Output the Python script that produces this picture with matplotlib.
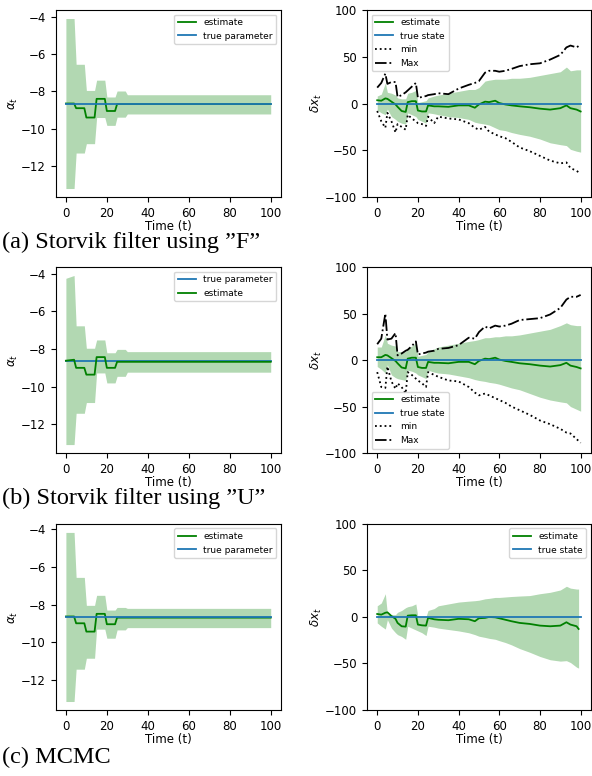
import numpy as np
import matplotlib
matplotlib.use('Agg')
import matplotlib.pyplot as plt

plt.rcParams.update({
    'font.size': 8.5,
    'xtick.labelsize': 8.5,
    'ytick.labelsize': 8.5,
    'axes.labelsize': 8.5,
    'legend.fontsize': 6.5,
    'lines.linewidth': 1.3,
    'axes.linewidth': 0.8,
})

# ---- parameter panels (alpha_t) ----
t_alpha = [0, 4, 5, 9, 10, 14, 15, 19, 20, 24, 25, 29, 30, 100]
true_alpha = -8.65

est_alpha_F = [-8.65, -8.65, -8.9, -8.9, -9.4, -9.4, -8.4, -8.4, -9.05, -9.05, -8.68, -8.68, -8.68, -8.68]
up_alpha_F = [-4.1, -4.1, -6.55, -6.55, -7.95, -7.95, -7.4, -7.4, -8.3, -8.3, -7.98, -7.98, -8.18, -8.18]
lo_alpha_F = [-13.2, -13.2, -11.3, -11.3, -10.8, -10.8, -9.4, -9.4, -9.82, -9.82, -9.38, -9.38, -9.21, -9.21]

est_alpha_U = [-8.62, -8.57, -9.0, -9.0, -9.36, -9.36, -8.43, -8.43, -9.0, -9.0, -8.68, -8.68, -8.68, -8.68]
up_alpha_U = [-4.25, -4.1, -6.77, -6.77, -7.96, -7.96, -7.52, -7.52, -8.2, -8.2, -8.02, -8.02, -8.14, -8.14]
lo_alpha_U = [-13.07, -13.07, -11.41, -11.41, -10.84, -10.84, -9.27, -9.27, -9.8, -9.8, -9.45, -9.45, -9.23, -9.23]

est_alpha_M = [-8.63, -8.63, -8.99, -8.99, -9.43, -9.43, -8.49, -8.49, -9.04, -9.04, -8.69, -8.69, -8.69, -8.69]
up_alpha_M = [-4.18, -4.18, -6.56, -6.56, -8.04, -8.04, -7.51, -7.51, -8.29, -8.29, -8.15, -8.15, -8.2, -8.2]
lo_alpha_M = [-13.13, -13.13, -11.42, -11.42, -10.84, -10.84, -9.3, -9.3, -9.78, -9.78, -9.34, -9.34, -9.22, -9.22]

# ---- state panels (delta x_t) ----
t_x = [0, 2, 4, 5, 7, 9, 10, 12, 14, 15, 17, 19, 20, 22, 24, 25, 28, 30, 35, 40,
       45, 48, 50, 53, 55, 58, 60, 63, 66, 70, 75, 80, 85, 90, 93, 95, 98, 100]
t_x_mcmc = [0, 2, 4, 5, 7, 9, 10, 12, 14, 15, 17, 19, 20, 22, 24, 25, 28, 30, 35, 40,
            45, 48, 50, 53, 55, 58, 60, 63, 66, 70, 75, 80, 85, 90, 93, 95, 98, 99]
t_true = [0, 100]
true_x = [0, 0]

est_x_F = [3.5, 3, 5.5, 5, 2, -1, -3.5, -8, -9, 1.5, 2.5, 2.5, -7.5, -8.5, -8.5, -2, -3, -3, -3.5, -2,
           -2, -4.5, -1, 2, 1.5, 3, 0.5, -1, -2, -3, -4, -5.5, -6.5, -5, -2, -5, -6.5, -8.5]
up_x_F = [8, 10, 22, 12, 11, 9, 6, 5, 5, 11, 12, 14, 1, 2, 3, 6, 8, 9, 11, 13,
          15, 15, 17, 24, 25, 26, 26, 26, 27, 27, 28, 30, 32, 34, 39, 35, 36, 36]
lo_x_F = [-7, -10, -12, -6, -14, -17, -19, -21, -22, -10, -12, -14, -17, -19, -21, -10, -11, -12, -14, -15,
          -17, -20, -21, -22, -23, -26, -28, -29, -31, -33, -35, -38, -42, -44, -45, -49, -51, -52]
max_x_F = [17, 22, 32, 21, 23, 23, 7, 9, 12, 14, 18, 22, 6, 7, 8, 9, 10, 11, 10, 16,
           20, 22, 24, 33, 35, 35, 34, 35, 37, 40, 42, 43, 47, 52, 60, 62, 60, 63]
min_x_F = [-8, -19, -26, -10, -19, -31, -22, -25, -28, -12, -16, -19, -21, -22, -24, -14, -21, -14, -16, -17,
           -21, -26, -28, -25, -30, -33, -35, -37, -41, -47, -51, -56, -61, -64, -63, -69, -72, -75]

est_x_U = [3, 3, 5.5, 5, 2, -1, -3.5, -8, -9, 1.5, 2.5, 2.5, -7.5, -8.5, -8.5, -2, -3, -3, -3.5, -2,
           -2, -4.5, -1, 1.5, 1, 2.5, 0.5, -1, -2, -3.5, -4.5, -6, -7, -5.5, -3, -6, -7.5, -9]
up_x_U = [14, 14, 27, 18, 16, 15, 9, 9, 9, 13, 15, 18, 4, 5, 6, 9, 12, 14, 16, 18,
          20, 21, 22, 24, 24, 25, 25, 26, 26, 27, 29, 31, 33, 37, 40, 38, 37, 37]
lo_x_U = [-7, -10, -14, -5, -16, -19, -20, -21, -22, -11, -12, -14, -16, -18, -20, -11, -13, -14, -15, -17,
          -19, -21, -22, -23, -24, -25, -26, -28, -30, -32, -36, -40, -43, -45, -46, -50, -53, -55]
max_x_U = [17, 23, 50, 22, 23, 29, 5, 7, 10, 11, 15, 20, 6, 7, 8, 9, 10, 12, 13, 16,
           24, 23, 30, 36, 34, 37, 36, 37, 39, 43, 44, 45, 49, 56, 65, 68, 68, 70]
min_x_U = [-13, -29, -30, -7, -23, -31, -25, -29, -36, -13, -16, -20, -22, -25, -29, -13, -16, -18, -22, -23,
           -29, -35, -38, -36, -38, -41, -43, -46, -50, -54, -59, -65, -69, -74, -78, -79, -85, -89]

est_x_M = [3.2, 2.5, 4.5, 5, 1, -2, -6.4, -10, -10.4, 1.4, 1.8, 1.8, -8.2, -9, -9.3, -1, -2.5, -3, -3.5, -2,
           -2.5, -4.6, -1.4, -1, 0, -0.4, -1.4, -3, -4.6, -6.4, -7.5, -9.3, -10, -9.3, -5.7, -8.2, -10, -12.9]
up_x_M = [12, 15, 25, 3, 2.5, 2.5, 5, 7, 10, 11, 12, 14, 0, 0, 0.5, 7, 9, 12, 14, 16,
          17, 17.5, 18, 19.5, 20, 21, 21, 21.5, 22, 22.5, 23, 25, 26.5, 29, 33, 31, 30, 30]
lo_x_M = [-6.4, -10, -13, -3, -12, -17, -19, -21, -24, -10, -12, -14, -15, -17, -20, -10, -11, -12, -13.5, -15,
          -17, -19, -20.7, -22, -23, -24, -25.5, -27.5, -30, -34, -38, -42.5, -46, -47.5, -47, -49, -54, -55]

captions = ['(a) Storvik filter using \u201dF\u201d',
            '(b) Storvik filter using \u201dU\u201d',
            '(c) MCMC']

fig = plt.figure(figsize=(5.92, 7.76), dpi=100)

# axes rectangles (left, bottom, width, height) in figure fractions
row_bottoms = [0.7461, 0.4162, 0.0851]
row_heights = [0.241, 0.2397, 0.2397]
cap_y = [0.6875, 0.3575, 0.0245]

alpha_sets = [(est_alpha_F, up_alpha_F, lo_alpha_F),
              (est_alpha_U, up_alpha_U, lo_alpha_U),
              (est_alpha_M, up_alpha_M, lo_alpha_M)]

for i in range(3):
    ax = fig.add_axes([0.094, row_bottoms[i], 0.3806, row_heights[i]])
    est, up, lo = alpha_sets[i]
    ax.fill_between(t_alpha, lo, up, color='green', alpha=0.3, linewidth=0)
    if i == 1:
        ax.plot(t_true, [true_alpha, true_alpha], color='tab:blue', label='true parameter')
        ax.plot(t_alpha, est, color='green', label='estimate')
    else:
        ax.plot(t_alpha, est, color='green', label='estimate')
        ax.plot(t_true, [true_alpha, true_alpha], color='tab:blue', label='true parameter')
    ax.set_xlabel('Time (t)', labelpad=0)
    ax.set_ylabel(r'$\alpha_t$', labelpad=1)
    ax.set_xticks([0, 20, 40, 60, 80, 100])
    ax.legend(loc='upper right')
    fig.text(0.003, cap_y[i], captions[i], family='Liberation Serif', fontsize=17.5, va='center')

# state panels
ax = fig.add_axes([0.62, row_bottoms[0], 0.378, row_heights[0]])
ax.fill_between(t_x, lo_x_F, up_x_F, color='green', alpha=0.3, linewidth=0)
ax.plot(t_x, est_x_F, color='green', label='estimate')
ax.plot(t_true, true_x, color='tab:blue', label='true state')
ax.plot(t_x, min_x_F, color='black', linestyle=':', label='min')
ax.plot(t_x, max_x_F, color='black', linestyle='-.', label='Max')
ax.legend(loc='upper left')

ax2 = fig.add_axes([0.62, row_bottoms[1], 0.378, row_heights[1]])
ax2.fill_between(t_x, lo_x_U, up_x_U, color='green', alpha=0.3, linewidth=0)
ax2.plot(t_x, est_x_U, color='green', label='estimate')
ax2.plot(t_true, true_x, color='tab:blue', label='true state')
ax2.plot(t_x, min_x_U, color='black', linestyle=':', label='min')
ax2.plot(t_x, max_x_U, color='black', linestyle='-.', label='Max')
ax2.legend(loc='lower left')

ax3 = fig.add_axes([0.62, row_bottoms[2], 0.378, row_heights[2]])
ax3.fill_between(t_x_mcmc, lo_x_M, up_x_M, color='green', alpha=0.3, linewidth=0)
ax3.plot(t_x_mcmc, est_x_M, color='green', label='estimate')
ax3.plot(t_true, true_x, color='tab:blue', label='true state')
ax3.legend(loc='upper right')

for a in [ax, ax2, ax3]:
    a.set_ylim(-100, 100)
    a.set_xticks([0, 20, 40, 60, 80, 100])
    a.set_xlabel('Time (t)', labelpad=0)
    a.set_ylabel(r'$\delta x_t$', labelpad=1)

plt.savefig('out.png', dpi=100)
